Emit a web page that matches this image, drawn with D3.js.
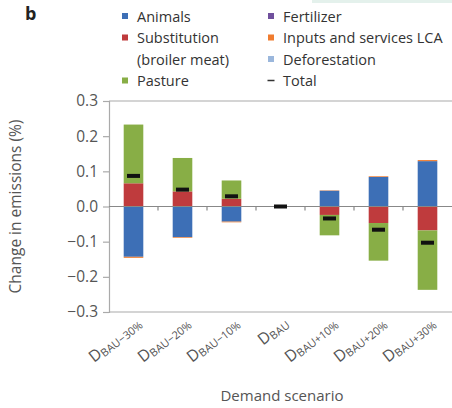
<!DOCTYPE html>
<html>
<head>
<meta charset="utf-8">
<script src="https://cdn.jsdelivr.net/npm/d3@7"></script>
<style>
  html, body { margin: 0; padding: 0; background: #fff; }
  svg { display: block; font-family: "Open Sans", "Noto Sans", sans-serif; }
</style>
</head>
<body>
<svg id="chart" width="452" height="408"></svg>
<script>
// Demand scenarios (D with subscript)
const scenarios = ["BAU−30%", "BAU−20%", "BAU−10%", "BAU", "BAU+10%", "BAU+20%", "BAU+30%"];

// Change in emissions (%) by source
const animals       = [-0.143, -0.087, -0.043, 0, 0.045, 0.084, 0.129];
const substitution  = [ 0.066,  0.043,  0.022, 0, -0.024, -0.047, -0.068];
const pasture       = [ 0.167,  0.095,  0.052, 0, -0.058, -0.107, -0.169];
const fertilizer    = [ 0, 0, 0, 0, 0, 0, 0];
const inputsLCA     = [-0.003, -0.002, -0.002, 0, 0.001, 0.002, 0.003];
const deforestation = [ 0, 0, 0, 0, 0, 0, 0];
const total         = [ 0.087,  0.048,  0.029, 0, -0.034, -0.066, -0.103];

const yTicks = [-0.3, -0.2, -0.1, 0.0, 0.1, 0.2, 0.3];

const series = [
  { key: "animals",       label: "Animals",                 values: animals,       color: "#3d6fb6" },
  { key: "substitution",  label: "Substitution",            values: substitution,  color: "#bf3b3d" },
  { key: "pasture",       label: "Pasture",                 values: pasture,       color: "#88ae46" },
  { key: "fertilizer",    label: "Fertilizer",              values: fertilizer,    color: "#70509d" },
  { key: "inputs",        label: "Inputs and services LCA", values: inputsLCA,     color: "#f07c2f" },
  { key: "deforestation", label: "Deforestation",           values: deforestation, color: "#9bb7dc" }
];

const svg = d3.select("#chart");
const plotL = 109, plotR = 452, plotT = 101, plotB = 312;

const x = d3.scaleBand().domain(scenarios).range([plotL, plotR]).paddingInner(0.6).paddingOuter(0.3);
const xStep = d3.scaleBand().domain(scenarios).range([plotL, plotR]);
const y = d3.scaleLinear().domain([-0.3, 0.3]).range([plotB, plotT]);

// soft tinted strip at the top right
svg.append("rect").attr("x", 312).attr("y", 0).attr("width", 140).attr("height", 3).attr("fill", "#e4f1ec");

// panel letter
svg.append("text").attr("x", 25).attr("y", 20).attr("font-size", 18).attr("font-weight", 700)
  .attr("fill", "#222").text("b");

// frame: top and bottom rules
svg.append("line").attr("x1", plotL).attr("x2", plotR).attr("y1", plotT).attr("y2", plotT)
  .attr("stroke", "#aaa").attr("stroke-width", 1.2);
svg.append("line").attr("x1", plotL).attr("x2", plotR).attr("y1", plotB).attr("y2", plotB)
  .attr("stroke", "#aaa").attr("stroke-width", 1.2);

// y axis
const yAxis = svg.append("g").attr("transform", `translate(${plotL},0)`)
  .call(d3.axisLeft(y).tickValues(yTicks).tickFormat(d => d3.format(".1f")(d).replace("-", "−")).tickSize(6).tickPadding(5));
yAxis.select(".domain").attr("stroke", "#aaa").attr("stroke-width", 1.2);
yAxis.selectAll(".tick line").attr("stroke", "#aaa").attr("stroke-width", 1.2);
yAxis.selectAll(".tick text").attr("font-size", 15.5).attr("fill", "#555").attr("font-family", "Open Sans, sans-serif");

// stacked bars, diverging from zero
const rows = scenarios.map((s, i) => {
  const r = { scenario: s };
  series.forEach(se => r[se.key] = se.values[i]);
  return r;
});
const stack = d3.stack().keys(series.map(s => s.key)).offset(d3.stackOffsetDiverging);
const layers = stack(rows);

svg.append("g").selectAll("g").data(layers).join("g")
  .attr("fill", (d, i) => series[i].color)
  .selectAll("rect").data(d => d).join("rect")
  .attr("x", d => x(d.data.scenario))
  .attr("width", x.bandwidth())
  .attr("y", d => y(Math.max(d[0], d[1])))
  .attr("height", d => Math.abs(y(d[0]) - y(d[1])));

// zero line with category ticks
svg.append("line").attr("x1", plotL).attr("x2", plotR).attr("y1", y(0)).attr("y2", y(0))
  .attr("stroke", "#888").attr("stroke-width", 1.2);
svg.append("g").selectAll("line").data(scenarios.slice(1)).join("line")
  .attr("x1", d => xStep(d)).attr("x2", d => xStep(d))
  .attr("y1", y(0)).attr("y2", y(0) + 4)
  .attr("stroke", "#888").attr("stroke-width", 1.2);

// totals
svg.append("g").selectAll("rect").data(total).join("rect")
  .attr("x", (d, i) => x(scenarios[i]) + x.bandwidth() / 2 - 6.5)
  .attr("y", d => y(d) - 2)
  .attr("width", 13).attr("height", 4)
  .attr("fill", "#111");

// category labels: D with subscript, rotated
const catG = svg.append("g").selectAll("text").data(scenarios).join("text")
  .attr("transform", d => `translate(${x(d) + x.bandwidth() / 2 + 9},${plotB + 13}) rotate(-38)`)
  .attr("text-anchor", "end")
  .attr("fill", "#555");
catG.append("tspan").attr("font-size", 16).text("D");
catG.append("tspan").attr("font-size", 11).attr("dy", 2).text(d => d);

// axis titles
svg.append("text").attr("transform", `translate(21,${(plotT + plotB) / 2}) rotate(-90)`)
  .attr("text-anchor", "middle").attr("font-size", 15.5).attr("fill", "#555")
  .text("Change in emissions (%)");
svg.append("text").attr("x", 282).attr("y", 401).attr("text-anchor", "middle")
  .attr("font-size", 15).attr("fill", "#555").text("Demand scenario");

// legend
const legendItems = [
  { col: 0, row: 0, color: series[0].color, lines: ["Animals"] },
  { col: 0, row: 1, color: series[1].color, lines: ["Substitution", "(broiler meat)"] },
  { col: 0, row: 3, color: series[2].color, lines: ["Pasture"] },
  { col: 1, row: 0, color: series[3].color, lines: ["Fertilizer"] },
  { col: 1, row: 1, color: series[4].color, lines: ["Inputs and services LCA"] },
  { col: 1, row: 2, color: series[5].color, lines: ["Deforestation"] },
  { col: 1, row: 3, color: null, lines: ["Total"] }
];
const colX = [125, 271], rowY0 = 16, rowH = 21.5;
const lg = svg.append("g").selectAll("g").data(legendItems).join("g")
  .attr("transform", d => `translate(${colX[d.col]},${rowY0 + d.row * rowH})`);
lg.filter(d => d.color).append("rect")
  .attr("x", -3).attr("y", -3).attr("width", 6).attr("height", 6).attr("fill", d => d.color);
lg.filter(d => !d.color).append("rect")
  .attr("x", -3.5).attr("y", -0.75).attr("width", 7).attr("height", 1.5).attr("fill", "#333");
lg.append("text").attr("x", 12).attr("y", 5.5).attr("font-size", 14.5).attr("fill", "#333")
  .selectAll("tspan").data(d => d.lines).join("tspan")
  .attr("x", 12).attr("dy", (d, i) => i === 0 ? 0 : rowH).text(d => d);
</script>
</body>
</html>
